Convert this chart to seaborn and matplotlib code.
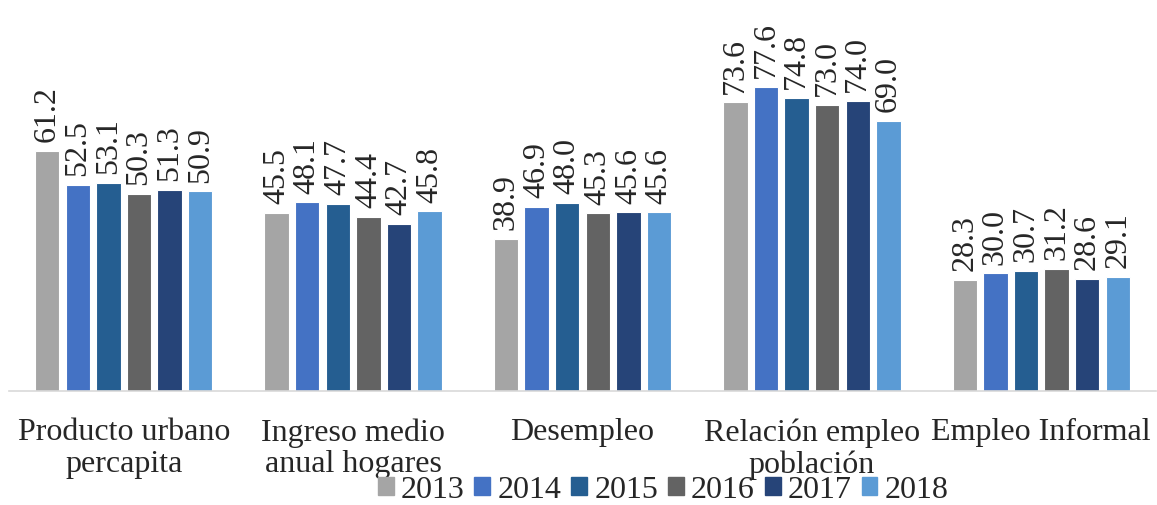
import matplotlib
matplotlib.use("Agg")
import matplotlib.pyplot as plt
import seaborn as sns
import pandas as pd

categories = ["Producto urbano\npercapita", "Ingreso medio\nanual hogares", "Desempleo",
              "Relación empleo\npoblación", "Empleo Informal"]
years = ["2013", "2014", "2015", "2016", "2017", "2018"]
v2013 = [61.2, 45.5, 38.9, 73.6, 28.3]
v2014 = [52.5, 48.1, 46.9, 77.6, 30.0]
v2015 = [53.1, 47.7, 48.0, 74.8, 30.7]
v2016 = [50.3, 44.4, 45.3, 73.0, 31.2]
v2017 = [51.3, 42.7, 45.6, 74.0, 28.6]
v2018 = [50.9, 45.8, 45.6, 69.0, 29.1]
colors = ["#A5A5A5", "#4472C4", "#255E91", "#636363", "#264478", "#5B9BD5"]

series = [v2013, v2014, v2015, v2016, v2017, v2018]
rows = []
for y, vals in zip(years, series):
    for c, v in zip(categories, vals):
        rows.append({"cat": c, "year": y, "val": v})
df = pd.DataFrame(rows)

sns.set_theme(style="white")
plt.rcParams["font.family"] = ["Liberation Serif", "DejaVu Serif"]

fig = plt.figure(figsize=(11.57, 5.06), dpi=100)
ax = fig.add_axes([9 / 1157, (506 - 392) / 506, 1147 / 1157, 392 / 506])
sns.barplot(data=df, x="cat", y="val", hue="year", palette=colors, order=categories,
            hue_order=years, gap=0.2, edgecolor="white", linewidth=0.8, saturation=1,
            ax=ax)
ax.set_ylim(0, 100)
ax.set_xlim(-0.5, 4.5)
for cont in ax.containers:
    ax.bar_label(cont, fmt="%.1f", rotation=90, padding=7, fontsize=23)

ax.set_xlabel("")
ax.set_ylabel("")
ax.set_yticks([])
for s in ["top", "right", "left"]:
    ax.spines[s].set_visible(False)
ax.spines["bottom"].set_color("#D9D9D9")
ax.spines["bottom"].set_linewidth(1.2)
ax.tick_params(axis="x", length=0, pad=19, labelsize=23)
for t in ax.get_xticklabels():
    t.set_linespacing(1.1)

ax.legend_.remove()
handles = [plt.Rectangle((0, 0), 1, 1, color=c) for c in colors]
fig.legend(handles, years, loc="center", bbox_to_anchor=(663 / 1157, 1 - 491 / 506),
           ncol=6, frameon=False, fontsize=23, handlelength=0.5, handleheight=0.5,
           handletextpad=0.22, columnspacing=0.31, borderpad=0)

fig.savefig("out.png", dpi=100)
